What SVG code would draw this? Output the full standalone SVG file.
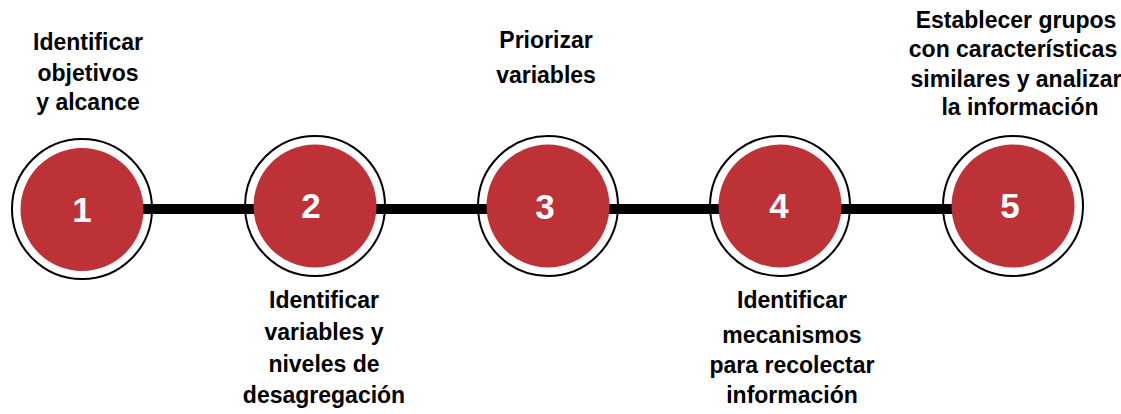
<svg xmlns="http://www.w3.org/2000/svg" width="1121" height="414" viewBox="0 0 1121 414">
<style>
.ring{fill:#fff;stroke:#000;stroke-width:2}
.dot{fill:#BD3236}
.num{font-family:"Liberation Sans",Arial,sans-serif;font-weight:bold;font-size:35px;fill:#fff;text-anchor:middle}
.lbl{font-family:"Liberation Sans",Arial,sans-serif;font-weight:bold;font-size:23px;fill:#000;text-anchor:middle}
</style>
<rect width="1121" height="414" fill="#fff"/>
<g id="rings">
<circle class="ring" cx="82" cy="209" r="70"/>
<circle class="ring" cx="315" cy="206" r="70"/>
<circle class="ring" cx="548" cy="206" r="70"/>
<circle class="ring" cx="780" cy="206" r="70"/>
<circle class="ring" cx="1013" cy="206" r="70"/>
</g>
<g id="connectors">
<line x1="82" y1="209" x2="1013" y2="209" stroke="#000" stroke-width="10"/>
</g>
<g id="node1">
<circle class="dot" cx="82" cy="209.5" r="61.5"/>
<text class="num" x="82" y="222">1</text>
<text class="lbl" x="88"><tspan x="88" y="50">Identificar</tspan><tspan x="88" y="81">objetivos</tspan><tspan x="88" y="110">y alcance</tspan></text>
</g>
<g id="node2">
<circle class="dot" cx="315" cy="206" r="61.5"/>
<text class="num" x="311" y="218">2</text>
<text class="lbl"><tspan x="324" y="308">Identificar</tspan><tspan x="324" y="340">variables y</tspan><tspan x="324" y="372">niveles de</tspan><tspan x="324" y="403">desagregación</tspan></text>
</g>
<g id="node3">
<circle class="dot" cx="548" cy="206" r="61.5"/>
<text class="num" x="545" y="219">3</text>
<text class="lbl"><tspan x="546" y="48">Priorizar</tspan><tspan x="546" y="83">variables</tspan></text>
</g>
<g id="node4">
<circle class="dot" cx="780" cy="206" r="61.5"/>
<text class="num" x="779" y="218">4</text>
<text class="lbl"><tspan x="792" y="308">Identificar</tspan><tspan x="792" y="343">mecanismos</tspan><tspan x="792" y="373">para recolectar</tspan><tspan x="792" y="403">información</tspan></text>
</g>
<g id="node5">
<circle class="dot" cx="1013" cy="206" r="61.5"/>
<text class="num" x="1010" y="218">5</text>
<text class="lbl"><tspan x="1016" y="28">Establecer grupos</tspan><tspan x="1013" y="57">con características</tspan><tspan x="1016" y="87">similares y analizar</tspan><tspan x="1020" y="115">la información</tspan></text>
</g>
</svg>
